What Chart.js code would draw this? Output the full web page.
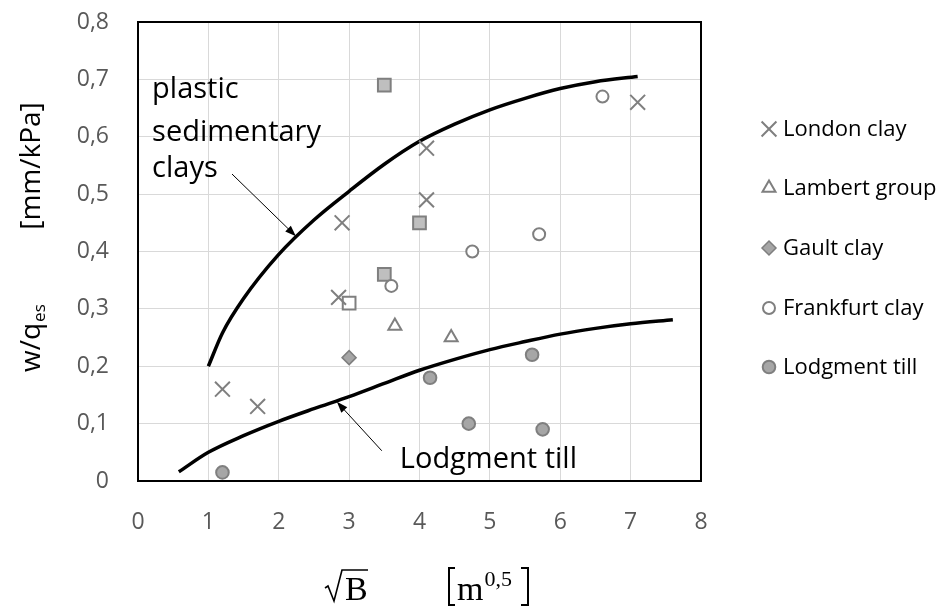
<!DOCTYPE html>
<html>
<head>
<meta charset="utf-8">
<script src="https://cdn.jsdelivr.net/npm/chart.js@4/dist/chart.umd.min.js"></script>
<style>
  html, body { margin: 0; padding: 0; background: #fff; }
  #wrap { width: 942px; height: 606px; }
</style>
</head>
<body>
<div id="wrap"><canvas id="chart" width="942" height="606"></canvas></div>
<script>
// measured points (sqrt B in m^0.5, w/q_es in mm/kPa)
const londonX = [1.2, 1.7, 2.9, 2.85, 4.1, 4.1, 7.1];
const londonY = [0.16, 0.13, 0.45, 0.32, 0.58, 0.49, 0.66];
const lambertX = [3.65, 4.45];
const lambertY = [0.27, 0.25];
const gaultX = [3.0];
const gaultY = [0.215];
const frankfurtX = [3.6, 4.75, 5.7, 6.6];
const frankfurtY = [0.34, 0.40, 0.43, 0.67];
const lodgmentX = [1.2, 4.15, 4.7, 5.6, 5.75];
const lodgmentY = [0.015, 0.18, 0.10, 0.22, 0.09];
const squareX = [3.5, 4.0, 3.5];
const squareY = [0.69, 0.45, 0.36];
const openSquareX = [3.0];
const openSquareY = [0.31];

// trend curves
const plasticX = [1.0, 1.2, 1.5, 2.0, 2.5, 3.0, 3.5, 4.0, 4.5, 5.0, 5.5, 6.0, 6.5, 7.1];
const plasticY = [0.2, 0.258, 0.318, 0.395, 0.455, 0.505, 0.552, 0.592, 0.622, 0.647, 0.667, 0.684, 0.696, 0.705];
const tillX = [0.58, 1.0, 1.5, 2.0, 2.5, 3.0, 3.5, 4.0, 4.5, 5.0, 5.5, 6.0, 6.5, 7.0, 7.6];
const tillY = [0.016, 0.05, 0.079, 0.104, 0.126, 0.147, 0.17, 0.193, 0.212, 0.229, 0.243, 0.256, 0.266, 0.274, 0.281];

const xTicks = [0, 1, 2, 3, 4, 5, 6, 7, 8];
const yTicks = [0, 0.1, 0.2, 0.3, 0.4, 0.5, 0.6, 0.7, 0.8];
const legendNames = ['London clay', 'Lambert group', 'Gault clay', 'Frankfurt clay', 'Lodgment till'];

const grey = '#7f7f7f';
const pts = (xs, ys) => xs.map((x, i) => ({ x: x, y: ys[i] }));

function markers(label, xs, ys, style, radius, fill, bw) {
  return {
    label: label, data: pts(xs, ys), showLine: false, order: 0,
    pointStyle: style, pointRadius: radius, pointHoverRadius: radius,
    pointBackgroundColor: fill, pointBorderColor: grey, pointBorderWidth: bw
  };
}
function curve(label, xs, ys) {
  return {
    label: label, data: pts(xs, ys), showLine: true, order: 1,
    borderColor: '#000', borderWidth: 3.5, pointRadius: 0,
    cubicInterpolationMode: 'monotone', fill: false
  };
}

const datasets = [
  markers('London clay', londonX, londonY, 'crossRot', 10.5, grey, 2),
  markers('Lambert group', lambertX, lambertY, 'triangle', 7.5, '#fff', 2),
  markers('Gault clay', gaultX, gaultY, 'rectRot', 7, '#a6a6a6', 1.5),
  markers('Frankfurt clay', frankfurtX, frankfurtY, 'circle', 6, '#fff', 2),
  markers('Lodgment till', lodgmentX, lodgmentY, 'circle', 6.3, '#a6a6a6', 2),
  markers('sq', squareX, squareY, 'rect', 9, '#bfbfbf', 2),
  markers('sq open', openSquareX, openSquareY, 'rect', 9, '#fff', 2),
  curve('plastic curve', plasticX, plasticY),
  curve('till curve', tillX, tillY)
];

// annotations, in data coordinates
const notes = [
  { lines: ['plastic', 'sedimentary', 'clays'], x: 0.2, y: [0.668, 0.593, 0.529] },
  { lines: ['Lodgment till'], x: 3.72, y: [0.0226] }
];
const arrows = [
  { from: [1.336, 0.535], to: [2.244, 0.4266] },
  { from: [3.464, 0.0527], to: [2.826, 0.138] }
];

const fmt = v => {
  const r = Math.round(v * 10) / 10;
  return r === 0 ? '0' : r.toFixed(1).replace('.', ',');
};

const extras = {
  id: 'extras',
  beforeDatasetsDraw(chart) {
    const a = chart.chartArea, ctx = chart.ctx;
    ctx.save();
    ctx.strokeStyle = '#000';
    ctx.lineWidth = 2;
    ctx.strokeRect(a.left, a.top, a.right - a.left, a.bottom - a.top);
    ctx.restore();
  },
  afterDraw(chart) {
    const ctx = chart.ctx, xs = chart.scales.x, ys = chart.scales.y;
    ctx.save();
    // annotation texts
    ctx.fillStyle = '#000';
    ctx.font = '29px "Open Sans"';
    ctx.textBaseline = 'alphabetic';
    ctx.textAlign = 'left';
    notes.forEach(n => n.lines.forEach((t, i) => {
      ctx.fillText(t, xs.getPixelForValue(n.x), ys.getPixelForValue(n.y[i]));
    }));
    // arrows
    arrows.forEach(ar => {
      const x1 = xs.getPixelForValue(ar.from[0]), y1 = ys.getPixelForValue(ar.from[1]);
      const x2 = xs.getPixelForValue(ar.to[0]), y2 = ys.getPixelForValue(ar.to[1]);
      const ang = Math.atan2(y2 - y1, x2 - x1);
      ctx.strokeStyle = '#000';
      ctx.lineWidth = 1;
      ctx.beginPath();
      ctx.moveTo(x1, y1);
      ctx.lineTo(x2 - 8 * Math.cos(ang), y2 - 8 * Math.sin(ang));
      ctx.stroke();
      ctx.beginPath();
      ctx.moveTo(x2, y2);
      ctx.lineTo(x2 - 11 * Math.cos(ang) + 4 * Math.sin(ang), y2 - 11 * Math.sin(ang) - 4 * Math.cos(ang));
      ctx.lineTo(x2 - 11 * Math.cos(ang) - 4 * Math.sin(ang), y2 - 11 * Math.sin(ang) + 4 * Math.cos(ang));
      ctx.closePath();
      ctx.fill();
    });

    // legend
    const rows = [129, 188, 248, 308, 367];
    ctx.font = '22px "Open Sans"';
    ctx.textBaseline = 'middle';
    legendNames.forEach((name, i) => {
      const ds = chart.data.datasets.find(d => d.label === name);
      ctx.fillStyle = ds.pointBackgroundColor;
      ctx.strokeStyle = ds.pointBorderColor;
      ctx.lineWidth = ds.pointBorderWidth;
      Chart.helpers.drawPoint(ctx, {
        pointStyle: ds.pointStyle, radius: ds.pointRadius, rotation: 0, borderWidth: ds.pointBorderWidth
      }, 769, rows[i]);
      ctx.fillStyle = '#000';
      ctx.fillText(name, 783, rows[i] + 1);
    });

    // y axis title
    ctx.save();
    ctx.translate(40, 372);
    ctx.rotate(-Math.PI / 2);
    ctx.textBaseline = 'alphabetic';
    ctx.font = '28px "Open Sans"';
    ctx.fillText('w/q', 0, 0);
    const wq = ctx.measureText('w/q').width;
    ctx.font = '17px "Open Sans"';
    ctx.fillText('es', wq + 1, 5);
    ctx.font = '28px "Open Sans"';
    ctx.textAlign = 'center';
    ctx.fillText('[mm/kPa]', 206, 0);
    ctx.restore();

    // x axis title: sqrt(B) [m^0,5]
    ctx.strokeStyle = '#000';
    ctx.lineWidth = 1.6;
    ctx.beginPath();
    ctx.moveTo(325, 588);
    ctx.lineTo(328, 586);
    ctx.lineTo(334, 601);
    ctx.lineTo(342, 570);
    ctx.lineTo(368, 570);
    ctx.stroke();
    ctx.font = '34px "Liberation Serif"';
    ctx.textBaseline = 'alphabetic';
    ctx.textAlign = 'left';
    ctx.fillText('B', 345, 600);
    ctx.fillText('m', 457, 600);
    const mw = ctx.measureText('m').width;
    ctx.font = '22px "Liberation Serif"';
    ctx.fillText('0,5', 457 + mw + 1, 586);
    ctx.lineWidth = 2;
    ctx.beginPath();
    ctx.moveTo(455, 568); ctx.lineTo(449, 568); ctx.lineTo(449, 605); ctx.lineTo(455, 605);
    ctx.moveTo(521, 568); ctx.lineTo(528, 568); ctx.lineTo(528, 605); ctx.lineTo(521, 605);
    ctx.stroke();
    ctx.restore();
  }
};

new Chart(document.getElementById('chart'), {
  type: 'scatter',
  data: { datasets: datasets },
  options: {
    responsive: false,
    animation: false,
    layout: { padding: { left: 0, right: 241, top: 22, bottom: 0 } },
    plugins: { legend: { display: false }, tooltip: { enabled: false } },
    scales: {
      x: {
        type: 'linear', min: 0, max: 8,
        afterFit: s => { s.height = 125; s.paddingLeft = 0; s.paddingRight = 0; },
        afterBuildTicks: s => { s.ticks = xTicks.map(v => ({ value: v })); },
        grid: { color: '#d9d9d9', drawTicks: false },
        border: { display: false },
        ticks: { padding: 28, color: '#595959', font: { family: 'Open Sans', size: 23 } }
      },
      y: {
        type: 'linear', min: 0, max: 0.8,
        afterFit: s => { s.width = 138; s.paddingTop = 0; s.paddingBottom = 0; },
        afterBuildTicks: s => { s.ticks = yTicks.map(v => ({ value: v })); },
        grid: { color: '#d9d9d9', drawTicks: false },
        border: { display: false },
        ticks: { padding: 29, color: '#595959', font: { family: 'Open Sans', size: 23 }, callback: v => fmt(v) }
      }
    }
  },
  plugins: [extras]
});
</script>
</body>
</html>
